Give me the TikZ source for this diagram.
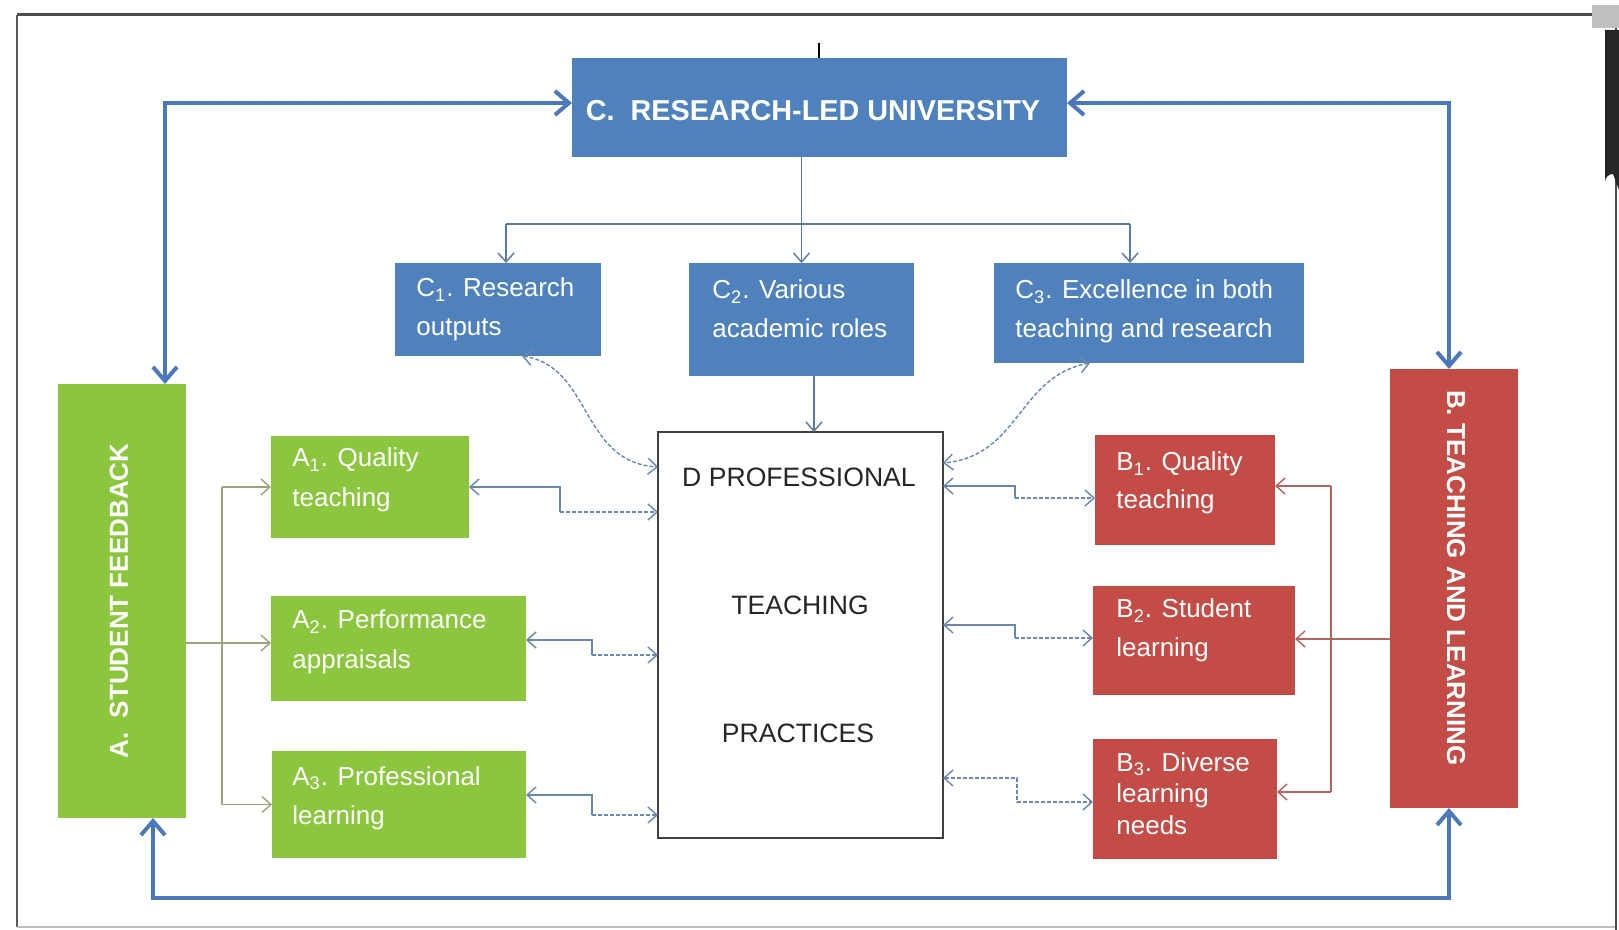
\documentclass[tikz,border=0pt]{standalone}
\usepackage{fontspec}
\setmainfont{Liberation Sans}
\usetikzlibrary{fit,arrows.meta}

\definecolor{boxblue}{RGB}{79,129,189}
\definecolor{boxgreen}{RGB}{140,198,63}
\definecolor{boxred}{RGB}{196,76,70}
\definecolor{loopblue}{RGB}{74,120,186}
\definecolor{linkblue}{RGB}{105,135,175}
\definecolor{treeblue}{RGB}{90,122,165}
\definecolor{agrey}{RGB}{160,162,125}
\definecolor{bred}{RGB}{175,100,98}

% first baseline of a stacked label sits on the node's base line
\newcommand\twolines[3]{\vtop{\baselineskip=#1\relax\lineskiplimit=-20pt\hbox{#2}\hbox{#3}}}
\newcommand\threelines[4]{\vtop{\baselineskip=#1\relax\lineskiplimit=-20pt\hbox{#2}\hbox{#3}\hbox{#4}}}

\tikzset{
  bigtip/.tip={Straight Barb[length=7pt,width=12pt]},
  smalltip/.tip={Straight Barb[length=4.5pt,width=8pt]},
  panel/.style={rectangle,inner sep=0pt,outer sep=0pt},
  bluebox/.style={panel,fill=boxblue},
  greenbox/.style={panel,fill=boxgreen},
  redbox/.style={panel,fill=boxred},
  corebox/.style={panel,fill=white,draw=black!75,line width=1pt},
  boxtext/.style={anchor=base west,inner sep=0pt,text=white,font=\fontsize{13}{15}\selectfont},
  coretext/.style={anchor=base,inner sep=0pt,text=black!85,font=\fontsize{13.3}{15}\selectfont},
  sidetext/.style={inner sep=0pt,text=white,font=\bfseries\fontsize{13}{15}\selectfont},
  loopline/.style={draw=loopblue,line width=2pt,line join=miter},
  tree/.style={draw=treeblue,line width=0.7pt},
  link/.style={draw=linkblue,line width=0.7pt},
  dlink/.style={draw=linkblue,line width=0.7pt,dash pattern=on 2pt off 1pt},
  abranch/.style={draw=agrey,line width=0.7pt},
  bbranch/.style={draw=bred,line width=0.7pt},
}

\begin{document}
\begin{tikzpicture}[x=0.5pt,y=-0.5pt]
\useasboundingbox (0,0) rectangle (1619,930);

% page frame and window edge
\fill[white] (0,0) rectangle (1619,930);
\draw[black!70,line width=1.5pt] (17,15) -- (1594,15);
\draw[black!65,line width=1pt] (17,15) -- (17,927);
\draw[black!25,line width=1pt] (17,927) -- (1616,927);
\draw[black!70,line width=0.8pt] (1616,28) -- (1616,930);
\fill[black!25] (1592,5) rectangle (1619,28);
\fill[black!85] (1619,30) -- (1605,30) -- (1605,182) arc[start angle=180,end angle=270,radius=8] -- (1619,190) -- cycle;

% boxes
\node[bluebox, fit={(572,58) (1067,157)}] (c) {};
\node[bluebox, fit={(395,263) (601,356)}] (c1) {};
\node[bluebox, fit={(689,263) (914,376)}] (c2) {};
\node[bluebox, fit={(994,263) (1304,363)}] (c3) {};
\node[greenbox, fit={(58,384) (186,818)}] (a) {};
\node[redbox, fit={(1390,369) (1518,808)}] (b) {};
\node[greenbox, fit={(271,436) (469,538)}] (a1) {};
\node[greenbox, fit={(271,596) (526,701)}] (a2) {};
\node[greenbox, fit={(272,751) (526,858)}] (a3) {};
\node[redbox, fit={(1095,435) (1275,545)}] (b1) {};
\node[redbox, fit={(1093,586) (1295,695)}] (b2) {};
\node[redbox, fit={(1093,739) (1277,859)}] (b3) {};
\node[corebox, fit={(658,432) (943,838)}] (d) {};

% box texts
\node[inner sep=0pt,text=white,font=\bfseries\fontsize{14.4}{16}\selectfont] (ct) at (813,111) {C.\ \ RESEARCH-LED UNIVERSITY};
\node[sidetext,rotate=90] (at) at (119,601) {A.\ \ STUDENT FEEDBACK};
\node[sidetext,rotate=-90] (bt) at (1456,578) {B. TEACHING AND LEARNING};

\node[boxtext] (c1t) at (416,297) {\twolines{19.5pt}{C\textsubscript{1}. Research}{outputs}};
\node[boxtext] (c2t) at (712,299) {\twolines{19.5pt}{C\textsubscript{2}. Various}{academic roles}};
\node[boxtext] (c3t) at (1015,299) {\twolines{19.5pt}{C\textsubscript{3}. Excellence in both}{teaching and research}};

\node[boxtext] (a1t) at (292,467) {\twolines{20pt}{A\textsubscript{1}. Quality}{teaching}};
\node[boxtext] (a2t) at (292,629) {\twolines{20pt}{A\textsubscript{2}. Performance}{appraisals}};
\node[boxtext] (a3t) at (292,785) {\twolines{19.5pt}{A\textsubscript{3}. Professional}{learning}};

\node[boxtext] (b1t) at (1116,471) {\twolines{19pt}{B\textsubscript{1}. Quality}{teaching}};
\node[boxtext] (b2t) at (1116,618) {\twolines{19.5pt}{B\textsubscript{2}. Student}{learning}};
\node[boxtext] (b3t) at (1116,771) {\threelines{16pt}{B\textsubscript{3}. Diverse}{learning}{needs}};

\node[coretext] (d1) at (799,487) {D PROFESSIONAL};
\node[coretext] (d2) at (800,615) {TEACHING};
\node[coretext] (d3) at (798,742) {PRACTICES};

% reference columns and rows for the connectors
\coordinate (ytop) at (0,103);
\coordinate (ybot) at (0,898);
\coordinate (xal) at (165,0);
\coordinate (xab) at (153,0);
\coordinate (xbl) at (1449,0);
\coordinate (ybr) at (0,224);
\coordinate (xc1) at (506,0);
\coordinate (xc3) at (1130,0);
\coordinate (xcd) at (814,0);
\coordinate (tick) at (819,43);

% outer feedback loop
\draw[loopline,bigtip-bigtip] (c.west |- ytop) -| (a.north -| xal);
\draw[loopline,bigtip-bigtip] (c.east |- ytop) -| (b.north -| xbl);
\draw[loopline,bigtip-bigtip] (a.south -| xab) -- (xab |- ybot) -- (xbl |- ybot) -- (b.south -| xbl);

\draw[black,line width=0.7pt] (tick) -- (c.north -| tick);

% research-led university branches
\draw[tree,-smalltip] (c.south -| c2.north) -- (c2.north);
\draw[tree] (xc1 |- ybr) -- (xc3 |- ybr);
\draw[tree,-smalltip] (xc1 |- ybr) -- (c1.north -| xc1);
\draw[tree,-smalltip] (xc3 |- ybr) -- (c3.north -| xc3);
\draw[tree,-smalltip] (c2.south -| xcd) -- (d.north -| xcd);

% curved links C1 / C3 with the core
\coordinate (k1) at (522,0);
\coordinate (k3) at (1090,0);
\coordinate (yd1) at (0,467);
\coordinate (yd3) at (0,463);
\draw[dlink,smalltip-smalltip] (c1.south -| k1) .. controls (592,366) and (580,462) .. (d.west |- yd1);
\draw[dlink,smalltip-smalltip] (c3.south -| k3) .. controls (1018,376) and (1020,456) .. (d.east |- yd3);

% A-side elbow links
\coordinate (e1) at (560,487); \coordinate (f1) at (560,512);
\coordinate (e2) at (592,640); \coordinate (f2) at (592,655);
\coordinate (e3) at (592,795); \coordinate (f3) at (592,815);
\draw[link,smalltip-] (a1.east |- e1) -- (e1) -- (f1);
\draw[dlink,-smalltip] (f1) -- (d.west |- f1);
\draw[link,smalltip-] (a2.east |- e2) -- (e2) -- (f2);
\draw[dlink,-smalltip] (f2) -- (d.west |- f2);
\draw[link,smalltip-] (a3.east |- e3) -- (e3) -- (f3);
\draw[dlink,-smalltip] (f3) -- (d.west |- f3);

% B-side elbow links
\coordinate (g1) at (1015,486); \coordinate (h1) at (1015,498);
\coordinate (g2) at (1015,625); \coordinate (h2) at (1015,638);
\coordinate (g3) at (1017,778); \coordinate (h3) at (1017,802);
\draw[link,smalltip-] (d.east |- g1) -- (g1) -- (h1);
\draw[dlink,-smalltip] (h1) -- (b1.west |- h1);
\draw[link,smalltip-] (d.east |- g2) -- (g2) -- (h2);
\draw[dlink,-smalltip] (h2) -- (b2.west |- h2);
\draw[dlink,smalltip-] (d.east |- g3) -- (g3) -- (h3);
\draw[dlink,-smalltip] (h3) -- (b3.west |- h3);

% student feedback fan-out
\coordinate (xa3) at (222,0);
\coordinate (ya2) at (0,643);
\draw[abranch] (a.east |- ya2) -- (xa3 |- ya2);
\draw[abranch] (xa3 |- a1.west) -- (xa3 |- a3.west);
\draw[abranch,-smalltip] (xa3 |- a1.west) -- (a1.west);
\draw[abranch,-smalltip] (xa3 |- ya2) -- (a2.west |- ya2);
\draw[abranch,-smalltip] (xa3 |- a3.west) -- (a3.west);

% teaching and learning fan-out
\coordinate (xb3) at (1331,0);
\coordinate (yr1) at (0,486);
\coordinate (yr2) at (0,639);
\coordinate (yr3) at (0,792);
\draw[bbranch] (b.west |- yr2) -- (xb3 |- yr2);
\draw[bbranch] (xb3 |- yr1) -- (xb3 |- yr3);
\draw[bbranch,-smalltip] (xb3 |- yr1) -- (b1.east |- yr1);
\draw[bbranch,-smalltip] (xb3 |- yr2) -- (b2.east |- yr2);
\draw[bbranch,-smalltip] (xb3 |- yr3) -- (b3.east |- yr3);
\end{tikzpicture}
\end{document}
